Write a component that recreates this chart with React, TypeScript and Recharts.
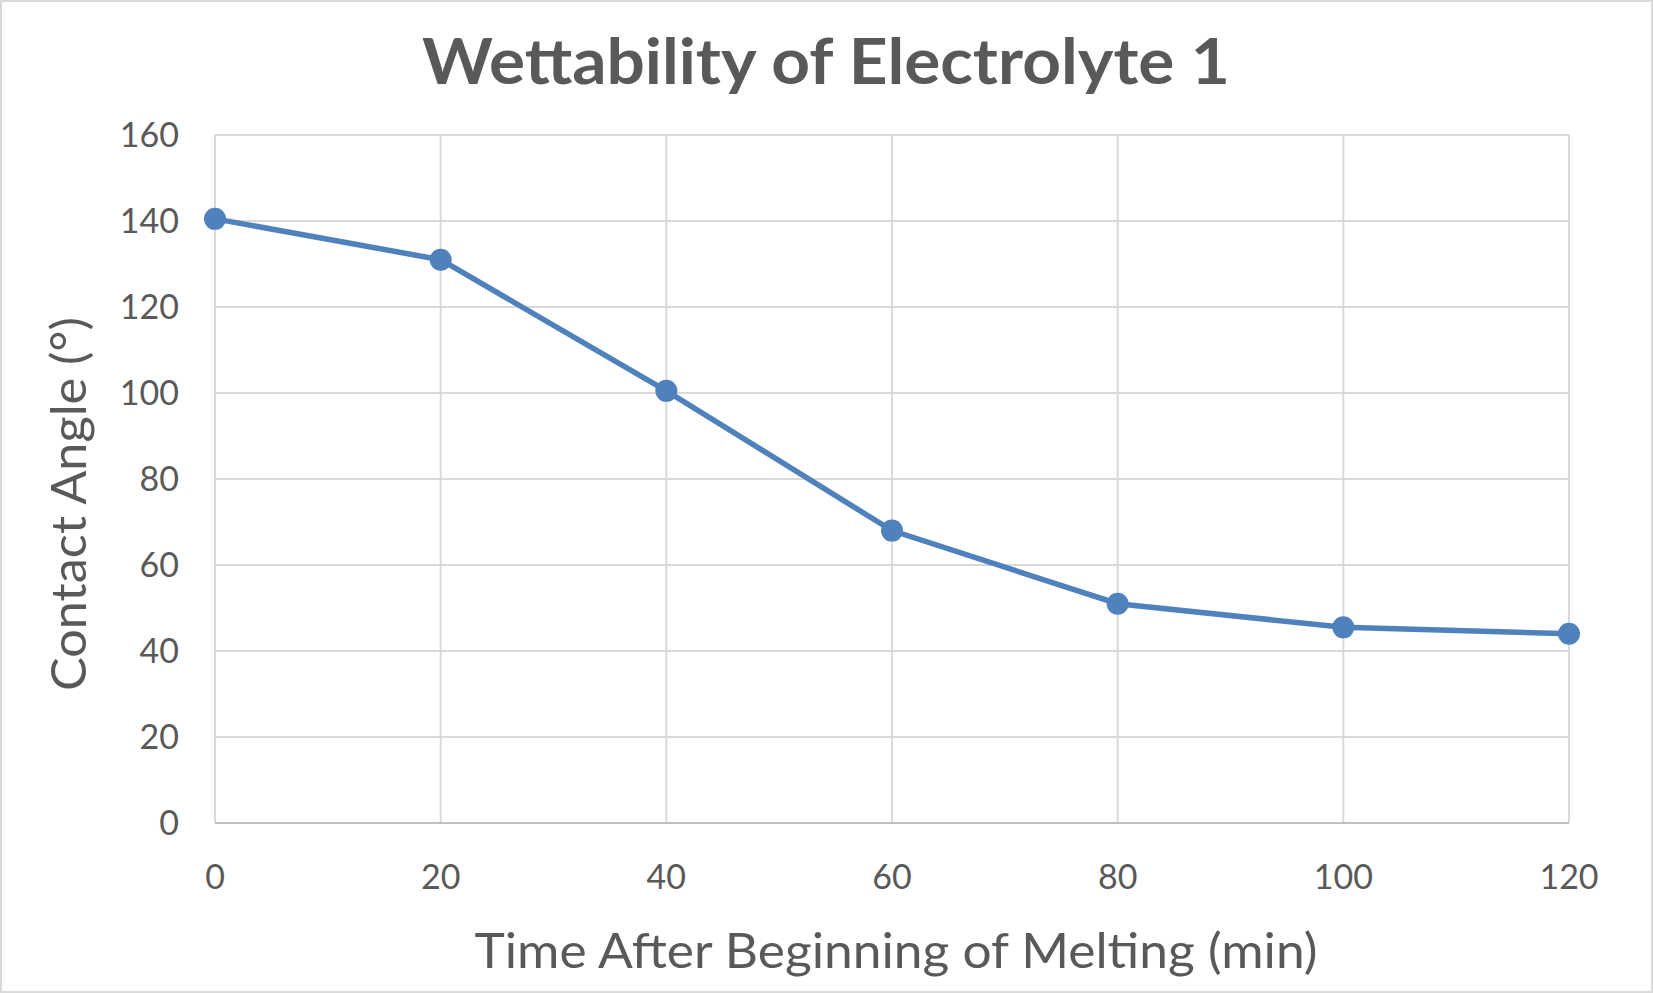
import React from "react";
import { LineChart, Line, XAxis, YAxis, CartesianGrid } from "recharts";

const minutes = [0, 20, 40, 60, 80, 100, 120];
const contactAngle = [140.5, 131, 100.5, 68, 51, 45.5, 44];
const xTicks = [0, 20, 40, 60, 80, 100, 120];
const yTicks = [0, 20, 40, 60, 80, 100, 120, 140, 160];

const data = minutes.map((m, i) => ({ m, angle: contactAngle[i] }));

const W = 1653;
const H = 993;
const FONT = "Lato, 'Open Sans', 'DejaVu Sans', sans-serif";
const TXT = "#595959";

export default function App() {
  return (
    <div
      style={{
        position: "absolute",
        left: 0,
        top: 0,
        width: W,
        height: H,
        background: "#fff",
        boxSizing: "border-box",
        border: "2px solid #D9D9D9",
        fontFamily: FONT,
      }}
    >
      <LineChart
        width={W - 4}
        height={H - 4}
        data={data}
        margin={{ top: 133, right: 82, bottom: 0, left: 0 }}
        style={{ position: "absolute", left: 0, top: 0 }}
      >
        <CartesianGrid stroke="#D9D9D9" strokeWidth={2} />
        <XAxis
          dataKey="m"
          type="number"
          domain={[0, 120]}
          ticks={xTicks}
          tickLine={false}
          tickSize={0}
          tickMargin={42}
          axisLine={{ stroke: "#BFBFBF", strokeWidth: 2 }}
          tick={{ fill: TXT, fontSize: 34, fontFamily: FONT }}
          height={168}
        />
        <YAxis
          type="number"
          domain={[0, 160]}
          ticks={yTicks}
          tickLine={false}
          tickSize={0}
          tickMargin={36}
          axisLine={false}
          tick={{ fill: TXT, fontSize: 34, fontFamily: FONT }}
          width={213}
        />
        <Line
          dataKey="angle"
          stroke="#4F81BD"
          strokeWidth={5.5}
          dot={{ r: 11, fill: "#4F81BD", stroke: "#4F81BD", strokeWidth: 0 }}
          isAnimationActive={false}
        />
      </LineChart>
      <svg
        width={W - 4}
        height={H - 4}
        style={{ position: "absolute", left: 0, top: 0, pointerEvents: "none" }}
      >
        <text
          x={824}
          y={82}
          textAnchor="middle"
          fill={TXT}
          fontFamily={FONT}
          fontWeight={700}
          fontSize={64}
          textLength={808}
          lengthAdjust="spacingAndGlyphs"
        >
          Wettability of Electrolyte 1
        </text>
        <text
          x={894}
          y={966}
          textAnchor="middle"
          fill={TXT}
          fontFamily={FONT}
          fontSize={48}
          textLength={843}
          lengthAdjust="spacingAndGlyphs"
        >
          Time After Beginning of Melting (min)
        </text>
        <text
          x={0}
          y={0}
          textAnchor="middle"
          fill={TXT}
          fontFamily={FONT}
          fontSize={48}
          textLength={374}
          lengthAdjust="spacingAndGlyphs"
          transform="translate(84 502) rotate(-90)"
        >
          Contact Angle (°)
        </text>
      </svg>
    </div>
  );
}
